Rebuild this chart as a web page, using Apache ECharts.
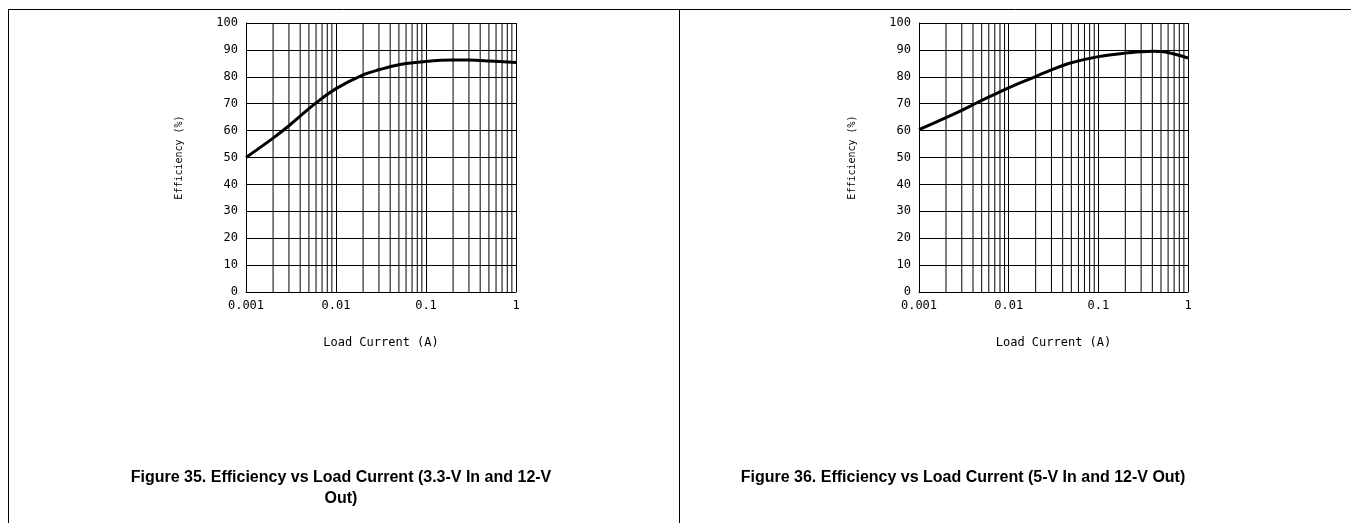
<!DOCTYPE html>
<html>
<head>
<meta charset="utf-8">
<script src="https://cdn.jsdelivr.net/npm/echarts@6/dist/echarts.min.js"></script>
<style>
  html, body { margin: 0; padding: 0; background: #fff; }
  #chart { width: 1351px; height: 523px; }
</style>
</head>
<body>
<div id="chart"></div>
<script>
  // Figure 35 : 3.3-V in, 12-V out
  const loadCurrent35 = [0.001, 0.002, 0.003, 0.004, 0.006, 0.01, 0.02, 0.03, 0.05, 0.1, 0.2, 0.3, 0.5, 1];
  const efficiency35 = [50, 57.2, 61.8, 65.4, 70.3, 75.6, 80.7, 82.6, 84.5, 85.7, 86.2, 86.2, 85.9, 85.3];
  // Figure 36 : 5-V in, 12-V out
  const loadCurrent36 = [0.001, 0.002, 0.003, 0.004, 0.005, 0.01, 0.02, 0.03, 0.05, 0.1, 0.2, 0.3, 0.4, 0.5, 0.7, 1];
  const efficiency36 = [60.4, 64.8, 67.5, 69.6, 71.2, 75.9, 80.1, 82.6, 85.2, 87.5, 88.8, 89.3, 89.5, 89.4, 88.5, 87];
  // log grid lines between the decades
  const minorGrid = [
    0.002, 0.003, 0.004, 0.005, 0.006, 0.007, 0.008, 0.009,
    0.02, 0.03, 0.04, 0.05, 0.06, 0.07, 0.08, 0.09,
    0.2, 0.3, 0.4, 0.5, 0.6, 0.7, 0.8, 0.9,
  ];
  const xTickLabels = ['0.001', '0.01', '0.1', '1'];
  const caption35 = ['Figure 35. Efficiency vs Load Current (3.3-V In and 12-V', 'Out)'];
  const caption36 = 'Figure 36. Efficiency vs Load Current (5-V In and 12-V Out)';

  const tickFont = 'DejaVu Sans Mono';
  const capFont = 'Liberation Sans';

  const pair = (xs, ys) => xs.map((x, i) => [x, ys[i]]);

  const xAxisOf = (gridIndex) => ({
    type: 'log',
    logBase: 10,
    gridIndex: gridIndex,
    min: 0.001,
    max: 1,
    name: 'Load Current (A)',
    nameLocation: 'middle',
    nameGap: 45,
    nameTextStyle: { color: '#000', fontFamily: tickFont, fontSize: 12 },
    axisLine: { lineStyle: { color: '#000', width: 1 } },
    axisTick: { show: false },
    axisLabel: {
      color: '#000',
      fontFamily: tickFont,
      fontSize: 12,
      margin: 8,
      formatter: (v) => {
        const s = String(+v.toPrecision(3));
        return xTickLabels.indexOf(s) >= 0 ? s : '';
      },
    },
    splitLine: { show: true, lineStyle: { color: '#000', width: 1 } },
  });

  const yAxisOf = (gridIndex) => ({
    type: 'value',
    gridIndex: gridIndex,
    min: 0,
    max: 100,
    interval: 10,
    name: 'Efficiency (%)',
    nameLocation: 'middle',
    nameGap: 62,
    nameTextStyle: { color: '#000', fontFamily: tickFont, fontSize: 10 },
    axisLine: { show: true, lineStyle: { color: '#000', width: 1 } },
    axisTick: { show: false },
    axisLabel: { color: '#000', fontFamily: tickFont, fontSize: 12, margin: 8 },
    splitLine: { show: true, lineStyle: { color: '#000', width: 1 } },
  });

  // vertical lines at 2..9 of each decade, broken between lines by '-'
  const minorSeriesOf = (idx) => ({
    type: 'line',
    xAxisIndex: idx,
    yAxisIndex: idx,
    silent: true,
    symbol: 'none',
    z: 2,
    lineStyle: { color: '#000', width: 1 },
    emphasis: { disabled: true },
    data: minorGrid.flatMap((v) => [[v, 0], [v, 100], [v, '-']]),
  });

  const curveOf = (idx, data) => ({
    type: 'line',
    xAxisIndex: idx,
    yAxisIndex: idx,
    data: data,
    smooth: 0.35,
    showSymbol: false,
    symbol: 'none',
    z: 5,
    lineStyle: { color: '#000', width: 3 },
    emphasis: { disabled: true },
  });

  const chart = echarts.init(document.getElementById('chart'));
  chart.setOption({
    animation: false,
    backgroundColor: '#fff',
    grid: [
      { left: 246, top: 23, width: 270, height: 269 },
      { left: 919, top: 23, width: 269, height: 269 },
    ],
    xAxis: [xAxisOf(0), xAxisOf(1)],
    yAxis: [yAxisOf(0), yAxisOf(1)],
    series: [
      minorSeriesOf(0),
      minorSeriesOf(1),
      curveOf(0, pair(loadCurrent35, efficiency35)),
      curveOf(1, pair(loadCurrent36, efficiency36)),
    ],
    graphic: [
      // page frame
      { type: 'line', shape: { x1: 8, y1: 9.5, x2: 1351, y2: 9.5 }, style: { stroke: '#000', lineWidth: 1 } },
      { type: 'line', shape: { x1: 8.5, y1: 9, x2: 8.5, y2: 523 }, style: { stroke: '#000', lineWidth: 1 } },
      { type: 'line', shape: { x1: 679.5, y1: 9, x2: 679.5, y2: 523 }, style: { stroke: '#000', lineWidth: 1 } },
      // captions
      {
        type: 'text', x: 341, y: 478,
        style: { text: caption35[0], fill: '#000', font: 'bold 16px "' + capFont + '"', textAlign: 'center', textVerticalAlign: 'middle' },
      },
      {
        type: 'text', x: 341, y: 499,
        style: { text: caption35[1], fill: '#000', font: 'bold 16px "' + capFont + '"', textAlign: 'center', textVerticalAlign: 'middle' },
      },
      {
        type: 'text', x: 963, y: 478,
        style: { text: caption36, fill: '#000', font: 'bold 16px "' + capFont + '"', textAlign: 'center', textVerticalAlign: 'middle' },
      },
    ],
  });
</script>
</body>
</html>
